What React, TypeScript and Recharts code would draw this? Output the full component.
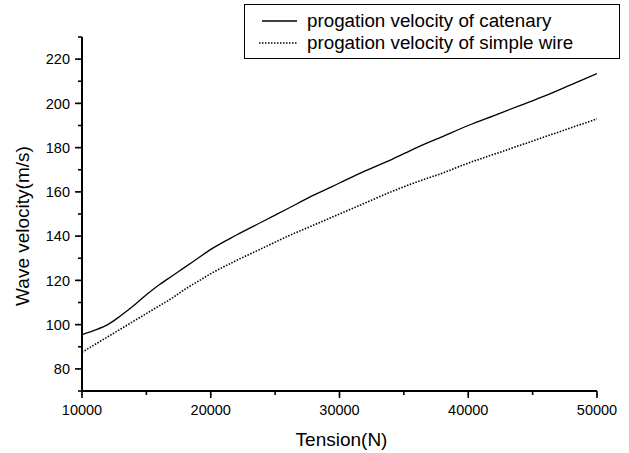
import React from 'react';
import { LineChart, Line, XAxis, YAxis, Legend } from 'recharts';

const tension = [10000, 11000, 12000, 13000, 14000, 15000, 16000, 17000, 18000, 19000, 20000, 22000, 24000, 26000, 28000, 30000, 32000, 34000, 36000, 38000, 40000, 42000, 44000, 46000, 48000, 50000];
const catenaryVelocity = [95.5, 97.5, 100, 104, 108.5, 113.5, 118, 122, 126, 130, 134, 140.5, 146.5, 152.5, 158.5, 164, 169.5, 174.5, 180, 185, 190, 194.5, 199, 203.5, 208.5, 213.5];
const simpleWireVelocity = [87.5, 91, 94.5, 98, 101.5, 105, 108.5, 112, 116, 119.5, 123, 129, 134.5, 140, 145, 150, 155, 160, 164.5, 168.5, 173, 177, 181, 185, 189, 193];
const xTicks = [10000, 15000, 20000, 25000, 30000, 35000, 40000, 45000, 50000];
const yTicks = [70, 80, 90, 100, 110, 120, 130, 140, 150, 160, 170, 180, 190, 200, 210, 220, 230];
const seriesNames = ['progation velocity of catenary', 'progation velocity of simple wire'];
const xTitle = 'Tension(N)';
const yTitle = 'Wave velocity(m/s)';

const data = tension.map((t, i) => ({ t, catenary: catenaryVelocity[i], wire: simpleWireVelocity[i] }));

const FONT = '"Liberation Sans", Arial, Helvetica, sans-serif';
const MINOR = 4;

function XTick(props: any) {
  const { x, y, payload } = props;
  const major = payload.value % 10000 === 0;
  return (
    <g>
      {major && <rect x={x - 0.8} y={y - 1} width={1.6} height={4} fill="#000" />}
      {major && (
        <text x={x} y={y + 20} textAnchor="middle" fontSize={14.5} fontFamily={FONT} fill="#000">
          {payload.value}
        </text>
      )}
    </g>
  );
}

function YTick(props: any) {
  const { x, y, payload } = props;
  const v = payload.value;
  const major = v % 20 === 0 && v >= 80 && v <= 220;
  return (
    <g>
      {major && <rect x={x - 3} y={y - 0.8} width={4} height={1.6} fill="#000" />}
      {major && (
        <text x={x - 8} y={y} dy="0.36em" textAnchor="end" fontSize={14.5} fontFamily={FONT} fill="#000">
          {v}
        </text>
      )}
    </g>
  );
}

function XTitle(props: any) {
  const vb = props.viewBox;
  return (
    <text x={vb.x + vb.width / 2 + 2} y={vb.y + 54.5} textAnchor="middle" fontSize={19} fontFamily={FONT} fill="#000">
      {xTitle}
    </text>
  );
}

function YTitle(props: any) {
  const vb = props.viewBox;
  const cy = vb.y + vb.height / 2 + 12;
  return (
    <text transform={`translate(29, ${cy}) rotate(-90)`} x={0} y={0} textAnchor="middle" fontSize={19} fontFamily={FONT} fill="#000">
      {yTitle}
    </text>
  );
}

function LegendBox(props: any) {
  const { payload } = props;
  return (
    <div
      style={{
        boxSizing: 'border-box',
        width: 376,
        height: 55,
        border: '1.5px solid #000',
        background: '#fff',
        paddingTop: 5,
        paddingLeft: 14,
        fontFamily: FONT,
        fontSize: 18.8,
        color: '#000',
      }}
    >
      {(payload || []).map((entry: any, i: number) => (
        <div key={i} style={{ display: 'flex', alignItems: 'center', height: 22, lineHeight: '22px', whiteSpace: 'nowrap' }}>
          <svg width={48} height={10} style={{ display: 'block', flex: 'none' }}>
            <line
              x1={i === 0 ? 3 : 0}
              x2={38}
              y1={5}
              y2={5}
              stroke="#000"
              strokeWidth={i === 0 ? 1.3 : 1.6}
              strokeDasharray={i === 0 ? undefined : '1.5 1.5'}
            />
          </svg>
          <span>{entry.value}</span>
        </div>
      ))}
    </div>
  );
}

export default function App() {
  return (
    <div style={{ position: 'absolute', left: 0, top: 0, width: 629, height: 453, background: '#fff' }}>
      <LineChart width={629} height={453} data={data} margin={{ top: 37, right: 32, left: 0, bottom: 22 }}>
        <XAxis
          dataKey="t"
          type="number"
          domain={[10000, 50000]}
          ticks={xTicks}
          interval={0}
          tickSize={MINOR}
          tickMargin={0}
          tickLine={{ stroke: '#000', strokeWidth: 1.6 }}
          stroke="#000"
          tick={<XTick />}
          axisLine={{ stroke: '#000', strokeWidth: 2 }}
          height={40}
          allowDataOverflow
          label={{ content: <XTitle /> }}
        />
        <YAxis
          type="number"
          domain={[70, 230]}
          ticks={yTicks}
          interval={0}
          tickSize={MINOR}
          tickMargin={0}
          tickLine={{ stroke: '#000', strokeWidth: 1.6 }}
          stroke="#000"
          tick={<YTick />}
          axisLine={{ stroke: '#000', strokeWidth: 2 }}
          width={82}
          allowDataOverflow
          label={{ content: <YTitle /> }}
        />
        <Legend
          layout="vertical"
          verticalAlign="middle"
          align="center"
          content={<LegendBox />}
          wrapperStyle={{ left: 244, top: 4, width: 376, height: 55 }}
        />
        <Line
          name={seriesNames[0]}
          dataKey="catenary"
          type="monotone"
          stroke="#000"
          strokeWidth={1.3}
          dot={false}
          isAnimationActive={false}
        />
        <Line
          name={seriesNames[1]}
          dataKey="wire"
          type="monotone"
          stroke="#000"
          strokeWidth={1.6}
          strokeDasharray="1.5 1.5"
          dot={false}
          isAnimationActive={false}
        />
      </LineChart>
    </div>
  );
}
